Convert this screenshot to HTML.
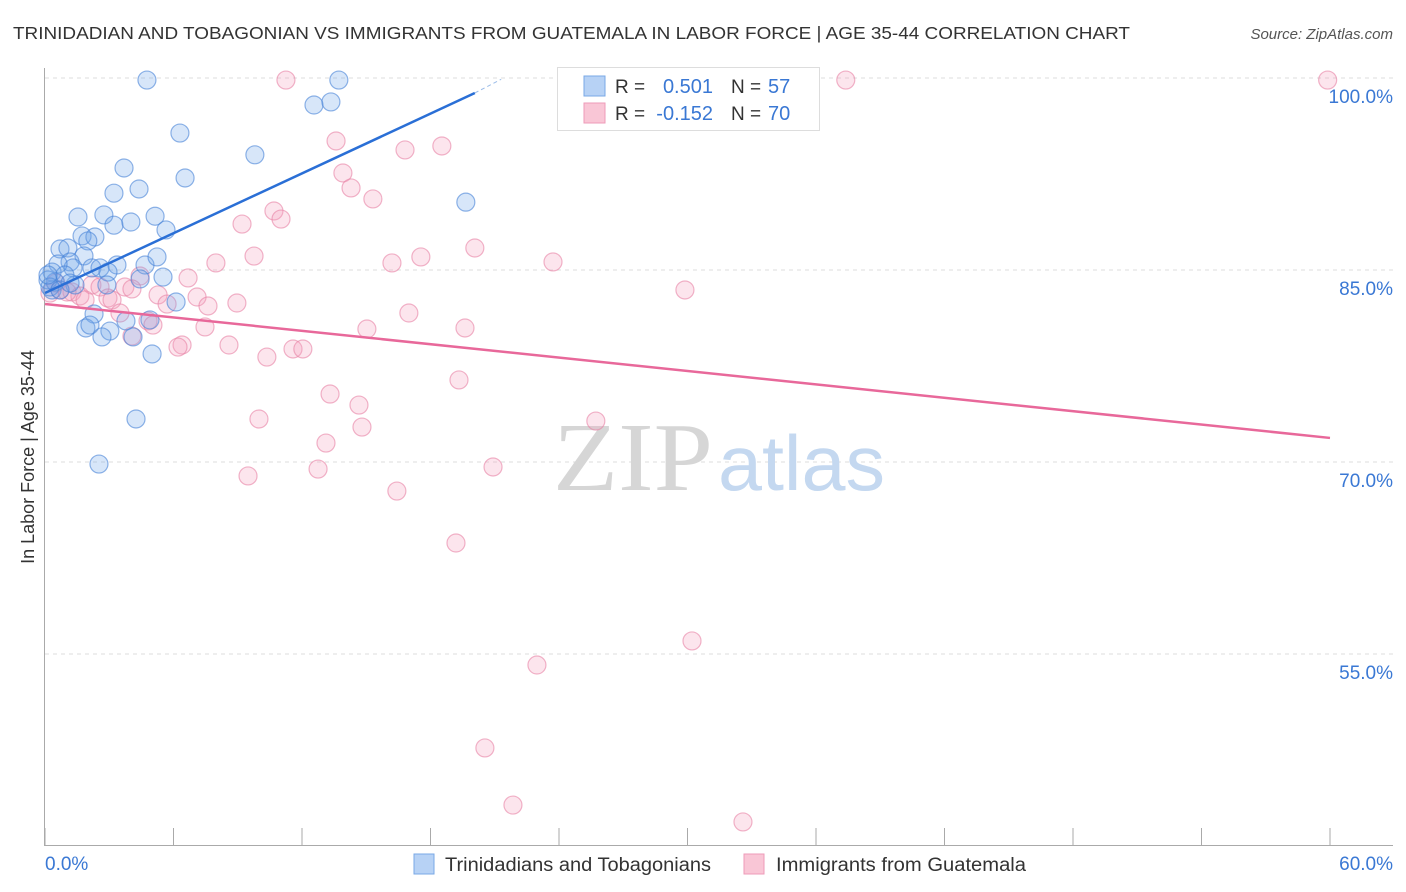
<!DOCTYPE html>
<html><head><meta charset="utf-8"><style>
body{margin:0;background:#fff;font-family:"Liberation Sans",sans-serif;}
svg{display:block}
</style></head><body>
<svg id="chart" width="1406" height="892" viewBox="0 0 1406 892" xmlns="http://www.w3.org/2000/svg">
<text x="13" y="39" font-size="17.5" fill="#333" textLength="1117" lengthAdjust="spacingAndGlyphs">TRINIDADIAN AND TOBAGONIAN VS IMMIGRANTS FROM GUATEMALA IN LABOR FORCE | AGE 35-44 CORRELATION CHART</text>
<text x="1393" y="39" font-size="15" fill="#555" font-style="italic" text-anchor="end">Source: ZipAtlas.com</text>
<g id="grid"></g>
<g>
<text x="553" y="490" font-size="98" fill="#d6d6d6" font-family="Liberation Serif, serif" textLength="160" lengthAdjust="spacingAndGlyphs">ZIP</text>
<text x="718" y="490" font-size="78" fill="#c4d8f0" textLength="167" lengthAdjust="spacingAndGlyphs">atlas</text>
</g>
<g id="axes"></g>
<g id="pink"></g>
<g id="blue"></g>
<g id="trends"></g>
<text transform="translate(34,457) rotate(-90)" font-size="18" fill="#333" text-anchor="middle">In Labor Force | Age 35-44</text>
<g>
<rect x="557.5" y="67.5" width="262" height="63" fill="#fff" stroke="#ddd"/>
<rect x="584" y="76" width="21" height="20" fill="#b7d2f5" stroke="#7aa8e6"/>
<rect x="584" y="103" width="21" height="20" fill="#f9c6d6" stroke="#ee9bb8"/>
<text x="615" y="93" font-size="19" fill="#333">R =</text>
<text x="713" y="93" font-size="20" fill="#3a78d4" text-anchor="end">0.501</text>
<text x="731" y="93" font-size="19" fill="#333">N =</text>
<text x="768" y="93" font-size="20" fill="#3a78d4">57</text>
<text x="615" y="120" font-size="19" fill="#333">R =</text>
<text x="713" y="120" font-size="20" fill="#3a78d4" text-anchor="end">-0.152</text>
<text x="731" y="120" font-size="19" fill="#333">N =</text>
<text x="768" y="120" font-size="20" fill="#3a78d4">70</text>
</g>
<g>
<rect x="414" y="854" width="20" height="20" fill="#b7d2f5" stroke="#7aa8e6"/>
<text x="445" y="871" font-size="19" fill="#333" textLength="266" lengthAdjust="spacingAndGlyphs">Trinidadians and Tobagonians</text>
<rect x="744" y="854" width="20" height="20" fill="#f9c6d6" stroke="#ee9bb8"/>
<text x="776" y="871" font-size="19" fill="#333" textLength="250" lengthAdjust="spacingAndGlyphs">Immigrants from Guatemala</text>
</g>
</svg>
<script>
const blueX=[4.76,13.72,12.56,13.35,6.30,9.80,3.69,6.54,3.22,4.39,19.65,1.54,2.75,5.14,3.22,4.01,5.65,1.73,2.33,2.0,0.70,1.07,1.82,1.17,1.31,0.61,0.33,2.19,2.57,3.36,4.67,5.23,5.51,4.44,2.94,2.89,1.40,0.33,0.47,0.14,6.12,2.29,3.78,4.90,1.91,2.10,3.03,2.66,4.11,5.0,4.25,2.52,0.23,0.70,0.93,1.17,0.14];
const blueY=[99.84,99.84,97.89,98.13,95.7,94.0,92.97,92.19,91.0,91.33,90.3,89.14,89.3,89.2,88.5,88.75,88.13,87.66,87.58,87.27,86.64,86.72,86.1,85.63,85.16,85.47,84.84,85.16,85.16,85.39,85.39,86.02,84.45,84.3,84.84,83.83,83.83,83.44,84.06,84.22,82.5,81.56,81.02,81.1,80.47,80.7,80.23,79.77,79.77,78.44,73.36,69.84,83.67,83.44,84.61,83.98,84.61];
const pinkX=[11.25,37.39,59.89,13.59,18.53,16.81,13.91,14.29,15.31,10.69,11.02,9.20,20.07,9.76,17.55,16.2,23.72,7.98,29.88,4.44,6.68,0.51,0.70,1.26,1.63,2.19,2.57,2.94,3.13,3.73,4.06,5.28,5.70,7.10,7.61,8.96,3.50,4.81,5.04,7.47,15.03,16.99,19.61,4.06,6.40,6.21,8.59,10.36,11.58,12.04,19.33,13.31,14.66,14.8,9.99,13.12,25.72,12.75,20.92,9.48,16.43,19.19,30.21,22.97,20.54,21.85,32.59,1.03,1.87,0.23];
const pinkY=[99.84,99.84,99.84,95.08,94.69,94.38,92.58,91.41,90.55,89.61,88.98,88.59,86.72,86.09,86.02,85.55,85.63,85.55,83.44,84.53,84.38,83.98,83.44,83.28,82.97,83.83,83.67,82.81,82.66,83.67,83.52,83.05,82.34,82.89,82.19,82.42,81.64,81.02,80.7,80.55,80.39,81.64,80.47,79.84,79.14,78.98,79.14,78.2,78.83,78.83,76.41,75.31,74.45,72.73,73.36,71.48,73.2,69.45,69.61,68.91,67.73,63.67,56.02,54.14,47.66,43.2,41.88,83.28,82.66,83.2];
const blueTrend=[0,83.2,20.07,98.83,21.3,99.9];
const pinkTrend=[0,82.34,60,71.88];
const yTicks=[100,85,70,55];
const yTickLabels=["100.0%","85.0%","70.0%","55.0%"];
const xTicks=[0,6,12,18,24,30,36,42,48,54,60];

const NS="http://www.w3.org/2000/svg";
const X=v=>45+v*1285/60;
const Y=v=>78+(100-v)*12.8;
function mk(tag,attrs,parent){const e=document.createElementNS(NS,tag);for(const k in attrs)e.setAttribute(k,attrs[k]);document.getElementById(parent).appendChild(e);return e;}

yTicks.forEach((t,i)=>{
  const l=mk('line',{x1:45,x2:1393,y1:Y(t),y2:Y(t),stroke:'#dcdcdc','stroke-dasharray':'4,4'},'grid');
  
  
  const tx=mk('text',{x:1393,y:Y(t)+25,'font-size':19,fill:'#3a78d4','text-anchor':'end'},'grid');
  tx.textContent=yTickLabels[i];
  
  
});
const ya=mk('line',{x1:44.5,x2:44.5,y1:68,y2:845,stroke:'#aaa'},'axes');


const xa=mk('line',{x1:44,x2:1393,y1:845.5,y2:845.5,stroke:'#aaa'},'axes');


xTicks.forEach(t=>{
  const l=mk('line',{x1:X(t),x2:X(t),y1:828,y2:845,stroke:'#aaa'},'axes');
  
  
});
const x0=mk('text',{x:45,y:870,'font-size':19,fill:'#3a78d4'},'axes');x0.textContent='0.0%';


const x1=mk('text',{x:1393,y:870,'font-size':19,fill:'#3a78d4','text-anchor':'end'},'axes');x1.textContent='60.0%';



pinkX.forEach((v,i)=>{
  const c=mk('circle',{cx:X(v),cy:Y(pinkY[i]),r:9,fill:'rgba(244,160,190,0.28)',stroke:'rgba(232,130,165,0.6)','stroke-width':1.2},'pink');
  
  
});
blueX.forEach((v,i)=>{
  const c=mk('circle',{cx:X(v),cy:Y(blueY[i]),r:9,fill:'rgba(110,165,235,0.28)',stroke:'rgba(70,130,215,0.6)','stroke-width':1.2},'blue');
  
  
});
const bt=mk('line',{x1:X(blueTrend[0]),y1:Y(blueTrend[1]),x2:X(blueTrend[2]),y2:Y(blueTrend[3]),stroke:'#2a6fd6','stroke-width':2.5},'trends');


const bd=mk('line',{x1:X(blueTrend[2]),y1:Y(blueTrend[3]),x2:X(blueTrend[4]),y2:Y(blueTrend[5]),stroke:'#9bbce8','stroke-width':1,'stroke-dasharray':'4,3'},'trends');


const pt=mk('line',{x1:X(pinkTrend[0]),y1:Y(pinkTrend[1]),x2:X(pinkTrend[2]),y2:Y(pinkTrend[3]),stroke:'#e8689a','stroke-width':2.5},'trends');


</script>
</body></html>
